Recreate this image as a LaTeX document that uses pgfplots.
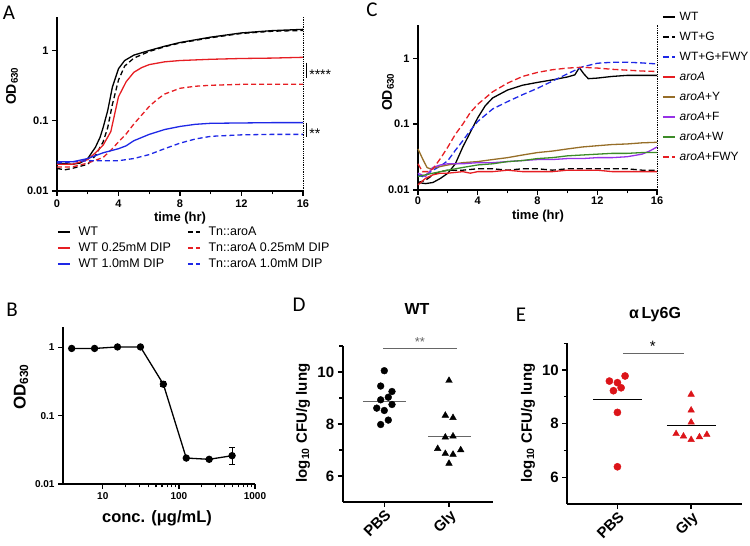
\documentclass[border=0pt]{standalone}
\usepackage{fontspec}
\setmainfont{Liberation Sans}
\newfontfamily\letterfont{Carlito}
\usepackage{pgfplots}
\pgfplotsset{compat=1.18}
\definecolor{cred}{RGB}{230,30,35}
\definecolor{cblue}{RGB}{30,40,230}
\definecolor{cbrown}{RGB}{150,110,40}
\definecolor{cpurple}{RGB}{150,50,230}
\definecolor{cgreen}{RGB}{60,140,40}
\definecolor{egred}{RGB}{220,20,25}
\pgfplotsset{
  gp/.style={scale only axis, anchor=south west,
    axis x line*=bottom, axis y line*=left,
    axis line style={line width=1.8pt},
    tick align=outside, major tick length=5pt, minor tick length=3.5pt,
    every tick/.append style={black, line width=1.3pt},
    every minor tick/.append style={black, line width=1.1pt},
    /pgf/number format/assume math mode=true, clip=false,
    tick label style={font=\bfseries\fontsize{11}{11}\selectfont}},
  dsh/.style={dash pattern=on 5pt off 3pt},
  dshc/.style={dash pattern=on 6pt off 3pt},
}
\begin{document}
\begin{tikzpicture}[x=1pt,y=1pt]
\useasboundingbox (0,0) rectangle (750,546);
% ---------------- Panel A
\begin{axis}[gp, at={(57pt,355pt)}, width=246pt, height=174pt,
  xmin=0, xmax=16, ymode=log, ymin=0.01, ymax=3,
  xtick={0,4,8,12,16}, minor xtick={2,6,10,14},
  ytick={0.01,0.1,1}, yticklabels={0.01,0.1,1}, yminorticks=false,
  legend columns=2, legend cell align=left,
  legend image code/.code={\draw[line width=1.5pt,#1] (0pt,0pt) -- (12pt,0pt);},
  legend style={at={(0.0,-0.19)}, anchor=north west, draw=none, fill=none, inner sep=0pt,
    font=\fontsize{12.5}{13}\selectfont,
    nodes={inner sep=2pt, text height=9pt, text depth=2pt},
    row sep=1pt,
    /tikz/every odd column/.append style={column sep=6pt},
    /tikz/every even column/.append style={column sep=14pt}},
  every axis plot/.append style={line width=1.3pt}]
\addplot[black] coordinates {(0,0.025)(1,0.024)(1.5,0.025)(2,0.029)(2.5,0.042)(2.8,0.058)(3,0.08)(3.3,0.14)(3.6,0.3)(4,0.55)(4.4,0.72)(5,0.86)(6,1.0)(7,1.15)(8,1.3)(10,1.55)(12,1.78)(14,1.92)(16,2.0)};
\addlegendentry{WT}
\addplot[black, dsh] coordinates {(0,0.021)(0.5,0.02)(1,0.021)(2,0.024)(2.5,0.032)(3,0.05)(3.3,0.08)(3.6,0.17)(4,0.38)(4.4,0.6)(5,0.78)(6,0.97)(7,1.13)(8,1.28)(10,1.52)(12,1.75)(14,1.88)(16,1.93)};
\addlegendentry{Tn::aroA}
\addplot[cred] coordinates {(0,0.024)(1,0.024)(2,0.028)(2.5,0.035)(3,0.045)(3.5,0.07)(4,0.22)(4.5,0.36)(5,0.49)(5.5,0.57)(6,0.63)(7,0.69)(8,0.72)(10,0.75)(12,0.77)(14,0.78)(16,0.8)};
\addlegendentry{WT 0.25mM DIP}
\addplot[cred, dsh] coordinates {(0,0.022)(1,0.022)(2,0.025)(3,0.03)(3.5,0.038)(4,0.05)(4.5,0.065)(5,0.09)(5.5,0.12)(6,0.16)(6.5,0.2)(7,0.24)(8,0.29)(9,0.31)(10,0.32)(12,0.33)(16,0.33)};
\addlegendentry{Tn::aroA 0.25mM DIP}
\addplot[cblue] coordinates {(0,0.026)(1,0.026)(2,0.029)(3,0.035)(4,0.04)(4.5,0.044)(5,0.052)(6,0.064)(7,0.075)(8,0.083)(9,0.089)(10,0.092)(12,0.093)(14,0.094)(16,0.094)};
\addlegendentry{WT 1.0mM DIP}
\addplot[cblue, dsh] coordinates {(0,0.025)(1,0.026)(2,0.027)(3,0.027)(4,0.027)(5,0.029)(6,0.033)(7,0.04)(8,0.048)(9,0.055)(10,0.06)(12,0.063)(14,0.064)(16,0.064)};
\addlegendentry{Tn::aroA 1.0mM DIP}
\addplot[black, densely dotted, line width=0.6pt, forget plot] coordinates {(16,0.01)(16,3)};
\addplot[black, line width=1pt, forget plot] coordinates {(16.2,0.67)(16.2,0.4)};
\addplot[black, line width=1pt, forget plot] coordinates {(16.2,0.094)(16.2,0.059)};
\node[anchor=west, font=\fontsize{14}{14}\selectfont, inner sep=0pt] at (axis cs:16.4,0.46) {****};
\node[anchor=west, font=\fontsize{14}{14}\selectfont, inner sep=0pt] at (axis cs:16.4,0.066) {**};
\end{axis}
\node[font=\letterfont\fontsize{21}{21}\selectfont] at (9,533) {A};
\node[rotate=90, font=\bfseries\fontsize{14}{14}\selectfont] at (12,460) {OD\textsubscript{630}};
\node[font=\bfseries\fontsize{13}{13}\selectfont] at (180,328) {time (hr)};
% ---------------- Panel C
\begin{axis}[gp, at={(418pt,356pt)}, width=239pt, height=165pt,
  xmin=0, xmax=16, ymode=log, ymin=0.01, ymax=3.2,
  xtick={0,4,8,12,16}, minor xtick={2,6,10,14},
  ytick={0.01,0.1,1}, yticklabels={0.01,0.1,1}, yminorticks=false,
  xticklabel style={yshift=1.5pt},
  legend cell align=left,
  legend image code/.code={\draw[line width=1.5pt,#1] (0pt,0pt) -- (12pt,0pt);},
  legend style={at={(1.021,1.097)}, anchor=north west, draw=none, fill=none, inner sep=0pt,
    font=\fontsize{12}{12}\selectfont,
    nodes={inner sep=2pt, text height=9pt, text depth=2.5pt},
    /tikz/every odd column/.append style={column sep=2pt},
    row sep=4.5pt},
  every axis plot/.append style={line width=1.3pt}]
\addplot[black] coordinates {(0,0.013)(0.5,0.0125)(1,0.013)(1.5,0.015)(2,0.018)(2.5,0.025)(3,0.045)(3.5,0.075)(4,0.125)(4.5,0.19)(5,0.25)(6,0.33)(7,0.39)(8,0.43)(9,0.47)(10,0.52)(10.5,0.56)(10.8,0.72)(11.1,0.58)(11.4,0.49)(12,0.5)(13,0.53)(14,0.55)(16,0.55)};
\addlegendentry{WT}
\addplot[black, dshc] coordinates {(0,0.013)(0.5,0.014)(1,0.017)(1.5,0.019)(2,0.02)(3,0.02)(4,0.021)(5,0.021)(6,0.02)(7,0.021)(8,0.021)(9,0.02)(10,0.021)(11,0.021)(12,0.021)(13,0.021)(14,0.021)(15,0.02)(16,0.02)};
\addlegendentry{WT+G}
\addplot[cblue, dshc] coordinates {(0,0.017)(0.3,0.016)(0.7,0.018)(1,0.02)(1.5,0.023)(2,0.028)(2.5,0.04)(3,0.056)(3.5,0.08)(4,0.11)(5,0.17)(6,0.22)(7,0.28)(8,0.35)(9,0.45)(10,0.58)(11,0.74)(12,0.84)(13,0.87)(14,0.87)(15,0.85)(16,0.82)};
\addlegendentry{WT+G+FWY}
\addplot[cred] coordinates {(0,0.012)(0.5,0.015)(1,0.017)(1.5,0.018)(2,0.018)(3,0.019)(3.5,0.018)(4,0.019)(5,0.019)(6,0.02)(7,0.019)(8,0.019)(9,0.019)(10,0.02)(11,0.02)(12,0.02)(13,0.019)(14,0.019)(15,0.019)(16,0.019)};
\addlegendentry{\textit{aroA}}
\addplot[cbrown] coordinates {(0,0.042)(0.3,0.03)(0.6,0.022)(0.8,0.021)(1.2,0.022)(2,0.024)(3,0.026)(4,0.027)(5,0.029)(6,0.031)(7,0.034)(8,0.037)(9,0.039)(10,0.042)(11,0.045)(12,0.047)(13,0.049)(14,0.05)(15,0.052)(16,0.053)};
\addlegendentry{\textit{aroA}+Y}
\addplot[cpurple] coordinates {(0,0.018)(0.5,0.016)(1,0.022)(1.5,0.024)(2,0.025)(3,0.025)(4,0.026)(5,0.026)(6,0.027)(7,0.028)(8,0.029)(9,0.029)(10,0.03)(11,0.03)(12,0.031)(13,0.031)(14,0.032)(15,0.035)(15.5,0.039)(16,0.045)};
\addlegendentry{\textit{aroA}+F}
\addplot[cgreen] coordinates {(0,0.016)(0.5,0.017)(1,0.018)(2,0.02)(3,0.022)(4,0.024)(5,0.025)(6,0.027)(7,0.028)(8,0.03)(9,0.031)(10,0.033)(11,0.034)(12,0.035)(13,0.036)(14,0.036)(15,0.037)(16,0.037)};
\addlegendentry{\textit{aroA}+W}
\addplot[cred, dshc] coordinates {(0,0.025)(0.3,0.019)(0.7,0.019)(1,0.021)(1.5,0.03)(2,0.045)(2.5,0.07)(3,0.1)(3.5,0.15)(4,0.2)(5,0.31)(6,0.42)(7,0.53)(8,0.61)(9,0.67)(10,0.71)(11,0.73)(12,0.71)(13,0.68)(14,0.66)(15,0.64)(16,0.63)};
\addlegendentry{\textit{aroA}+FWY}
\addplot[black, densely dotted, line width=0.6pt, forget plot] coordinates {(16,0.01)(16,3.2)};
\end{axis}
\node[font=\letterfont\fontsize{21}{21}\selectfont] at (372,536) {C};
\node[rotate=90, font=\bfseries\fontsize{14}{14}\selectfont] at (388,454) {OD\textsubscript{630}};
\node[font=\bfseries\fontsize{13}{13}\selectfont] at (538,330) {time (hr)};
% ---------------- Panel B
\begin{axis}[gp, at={(63pt,62pt)}, width=192pt, height=157pt,
  xmode=log, ymode=log, xmin=3, xmax=1000, ymin=0.01, ymax=2,
  xtick={10,100,1000}, xticklabels={10,100,1000},
  ytick={0.01,0.1,1}, yticklabels={0.01,0.1,1}, yminorticks=false,
  tick label style={font=\bfseries\fontsize{10}{10}\selectfont}]
\addplot[black, line width=1.3pt, mark=*, mark size=3pt,
  error bars/.cd, y dir=both, y explicit,
  error bar style={line width=1pt}, error mark options={rotate=90, mark size=3pt, line width=1pt}]
  coordinates {(3.9,0.97)(7.8,0.97)(15.6,1.02)(31.25,1.02)(62.5,0.29) +=(0,0.025) -=(0,0.021) (125,0.024)(250,0.023)(500,0.026) +=(0,0.0085) -=(0,0.0065)};
\end{axis}
\node[font=\letterfont\fontsize{21}{21}\selectfont] at (12,236) {B};
\node[rotate=90, font=\bfseries\fontsize{17}{17}\selectfont] at (21,159) {OD\textsubscript{630}};
\node[font=\bfseries\fontsize{16.5}{16.5}\selectfont] at (157,28) {conc. (μg/mL)};
% ---------------- Panel D
\begin{axis}[gp, at={(342.7pt,44pt)}, width=150.3pt, height=156pt,
  xmin=0.357, xmax=2.68, ymin=5, ymax=11,
  xtick={1,2}, xticklabels={PBS,Gly}, ytick={6,8,10}, minor ytick={7,9,11},
  tick label style={font=\bfseries\fontsize{15}{15}\selectfont},
  xticklabel style={rotate=45, anchor=north east, inner sep=1pt}]
\addplot[only marks, black, mark=*, mark size=3.4pt] coordinates {(1.0,10.05)(0.944,9.46)(1.119,9.25)(1.062,9.03)(0.944,8.93)(1.119,8.75)(0.883,8.61)(1.0,8.52)(1.062,8.15)(0.944,7.98)};
\addplot[only marks, black, mark=triangle*, mark size=3.8pt] coordinates {(2.0,9.67)(1.943,8.33)(2.062,8.24)(1.943,7.49)(2.062,7.53)(1.825,7.05)(2.181,7.0)(1.943,6.86)(2.062,6.83)(2.0,6.48)};
\addplot[gray!80!black, line width=1pt] coordinates {(0.67,8.87)(1.335,8.87)};
\addplot[gray!80!black, line width=1pt] coordinates {(1.68,7.5)(2.34,7.5)};
\addplot[gray!80!black, line width=1pt] coordinates {(0.985,10.89)(2.12,10.89)};
\node[font=\fontsize{13}{13}\selectfont, text=gray!80!black] at (axis cs:1.55,11.17) {**};
\end{axis}
\node[font=\letterfont\fontsize{21}{21}\selectfont] at (299,241) {D};
\node[font=\bfseries\fontsize{16}{16}\selectfont] at (417,237) {WT};
\node[rotate=90, font=\bfseries\fontsize{15}{15}\selectfont] at (303,123) {log\textsubscript{10} CFU/g lung};
% ---------------- Panel E
\begin{axis}[gp, at={(567.3pt,42pt)}, width=174.7pt, height=160.7pt,
  xmin=0.32, xmax=2.69, ymin=5, ymax=11,
  xtick={1,2}, xticklabels={PBS,Gly}, ytick={6,8,10}, minor ytick={7,9,11},
  tick label style={font=\bfseries\fontsize{15}{15}\selectfont},
  xticklabel style={rotate=45, anchor=north east, inner sep=1pt}]
\addplot[only marks, egred, mark=*, mark size=3.6pt] coordinates {(0.891,9.59)(1.104,9.78)(1.0,9.53)(1.05,9.34)(0.946,9.23)(1.0,8.42)(1.0,6.39)};
\addplot[only marks, egred, mark=triangle*, mark size=3.8pt] coordinates {(2.0,9.09)(2.0,8.5)(2.0,8.05)(1.796,7.62)(1.896,7.53)(2.0,7.4)(2.113,7.5)(2.213,7.59)};
\addplot[black, line width=1.2pt] coordinates {(0.674,8.9)(1.331,8.9)};
\addplot[black, line width=1.2pt] coordinates {(1.67,7.93)(2.34,7.93)};
\addplot[gray!80!black, line width=1pt] coordinates {(1.073,10.62)(1.905,10.62)};
\node[font=\fontsize{15}{15}\selectfont] at (axis cs:1.48,10.9) {*};
\end{axis}
\node[font=\letterfont\fontsize{21}{21}\selectfont] at (521,231) {E};
\node[font=\bfseries\fontsize{16}{16}\selectfont] at (655,231) {α\,Ly6G};
\node[rotate=90, font=\bfseries\fontsize{15}{15}\selectfont] at (528,123) {log\textsubscript{10} CFU/g lung};
\end{tikzpicture}
\end{document}
